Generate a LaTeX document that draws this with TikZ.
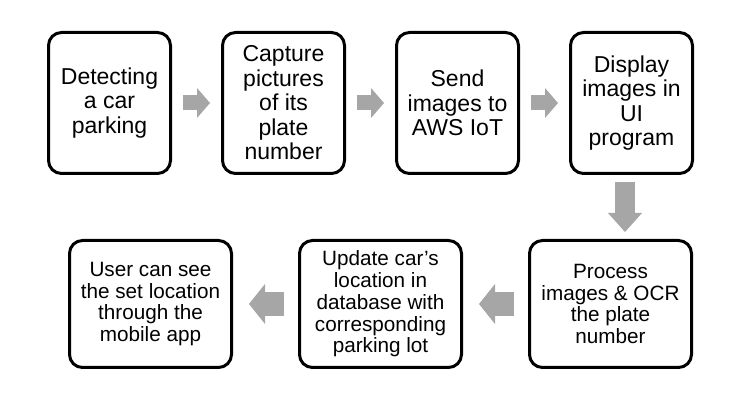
\documentclass[tikz,border=0pt]{standalone}
\usepackage{fontspec}
\setmainfont{Liberation Sans}
\usepackage{tikz}
\usetikzlibrary{arrows.meta, positioning}
\definecolor{arrowgray}{RGB}{166,166,166}
\tikzstyle{topbox}=[draw, line width=3pt, rounded corners=13pt, align=center, minimum width=122pt, minimum height=141pt, inner sep=0pt, font=\fontsize{23}{24.5}\selectfont]
\tikzstyle{lowbox}=[draw, line width=3pt, rounded corners=13pt, align=center, minimum width=162pt, minimum height=127pt, inner sep=0pt, font=\fontsize{20.7}{21.7}\selectfont]
\tikzstyle{rightarrow}=[arrowgray, line width=15pt, shorten <=11pt, shorten >=11pt, -{Triangle[width=30pt, length=13pt, line width=0pt]}]
\tikzstyle{leftarrow}=[arrowgray, line width=24pt, shorten <=14pt, shorten >=16pt, -{Triangle[width=40pt, length=16pt, line width=0pt]}]
\tikzstyle{downarrow}=[arrowgray, line width=20pt, shorten <=7pt, shorten >=7pt, -{Triangle[width=34pt, length=19pt, line width=0pt]}]

\begin{document}
\begin{tikzpicture}[x=1pt, y=1pt]
    \useasboundingbox (0,0) rectangle (755,414);

    % Top row
    \node[topbox] (detect) at (109.5,311) {Detecting\\a car\\parking};
    \node[topbox, right=49pt of detect] (capture) {Capture\\pictures\\of its\\plate\\number};
    \node[topbox, right=49pt of capture] (send) {Send\\images to\\AWS IoT};
    \node[topbox, right=49pt of send] (display) {Display\\images in\\UI\\program};

    % Bottom row
    \node[lowbox, below=64pt of display, xshift=-21pt] (process) {Process\\images \& OCR\\the plate\\number};
    \node[lowbox, left=65pt of process] (update) {Update car’s\\location in\\database with\\corresponding\\parking lot};
    \node[lowbox, left=65pt of update] (user) {User can see\\the set location\\through the\\mobile app};

    % Block arrows
    \draw[rightarrow] (detect) -- (capture);
    \draw[rightarrow] (capture) -- (send);
    \draw[rightarrow] (send) -- (display);
    \coordinate (turn) at ([xshift=-6.5pt]display.south);
    \draw[downarrow] (turn) -- (turn |- process.north);
    \draw[leftarrow] (process) -- (update);
    \draw[leftarrow] (update) -- (user);
\end{tikzpicture}
\end{document}
